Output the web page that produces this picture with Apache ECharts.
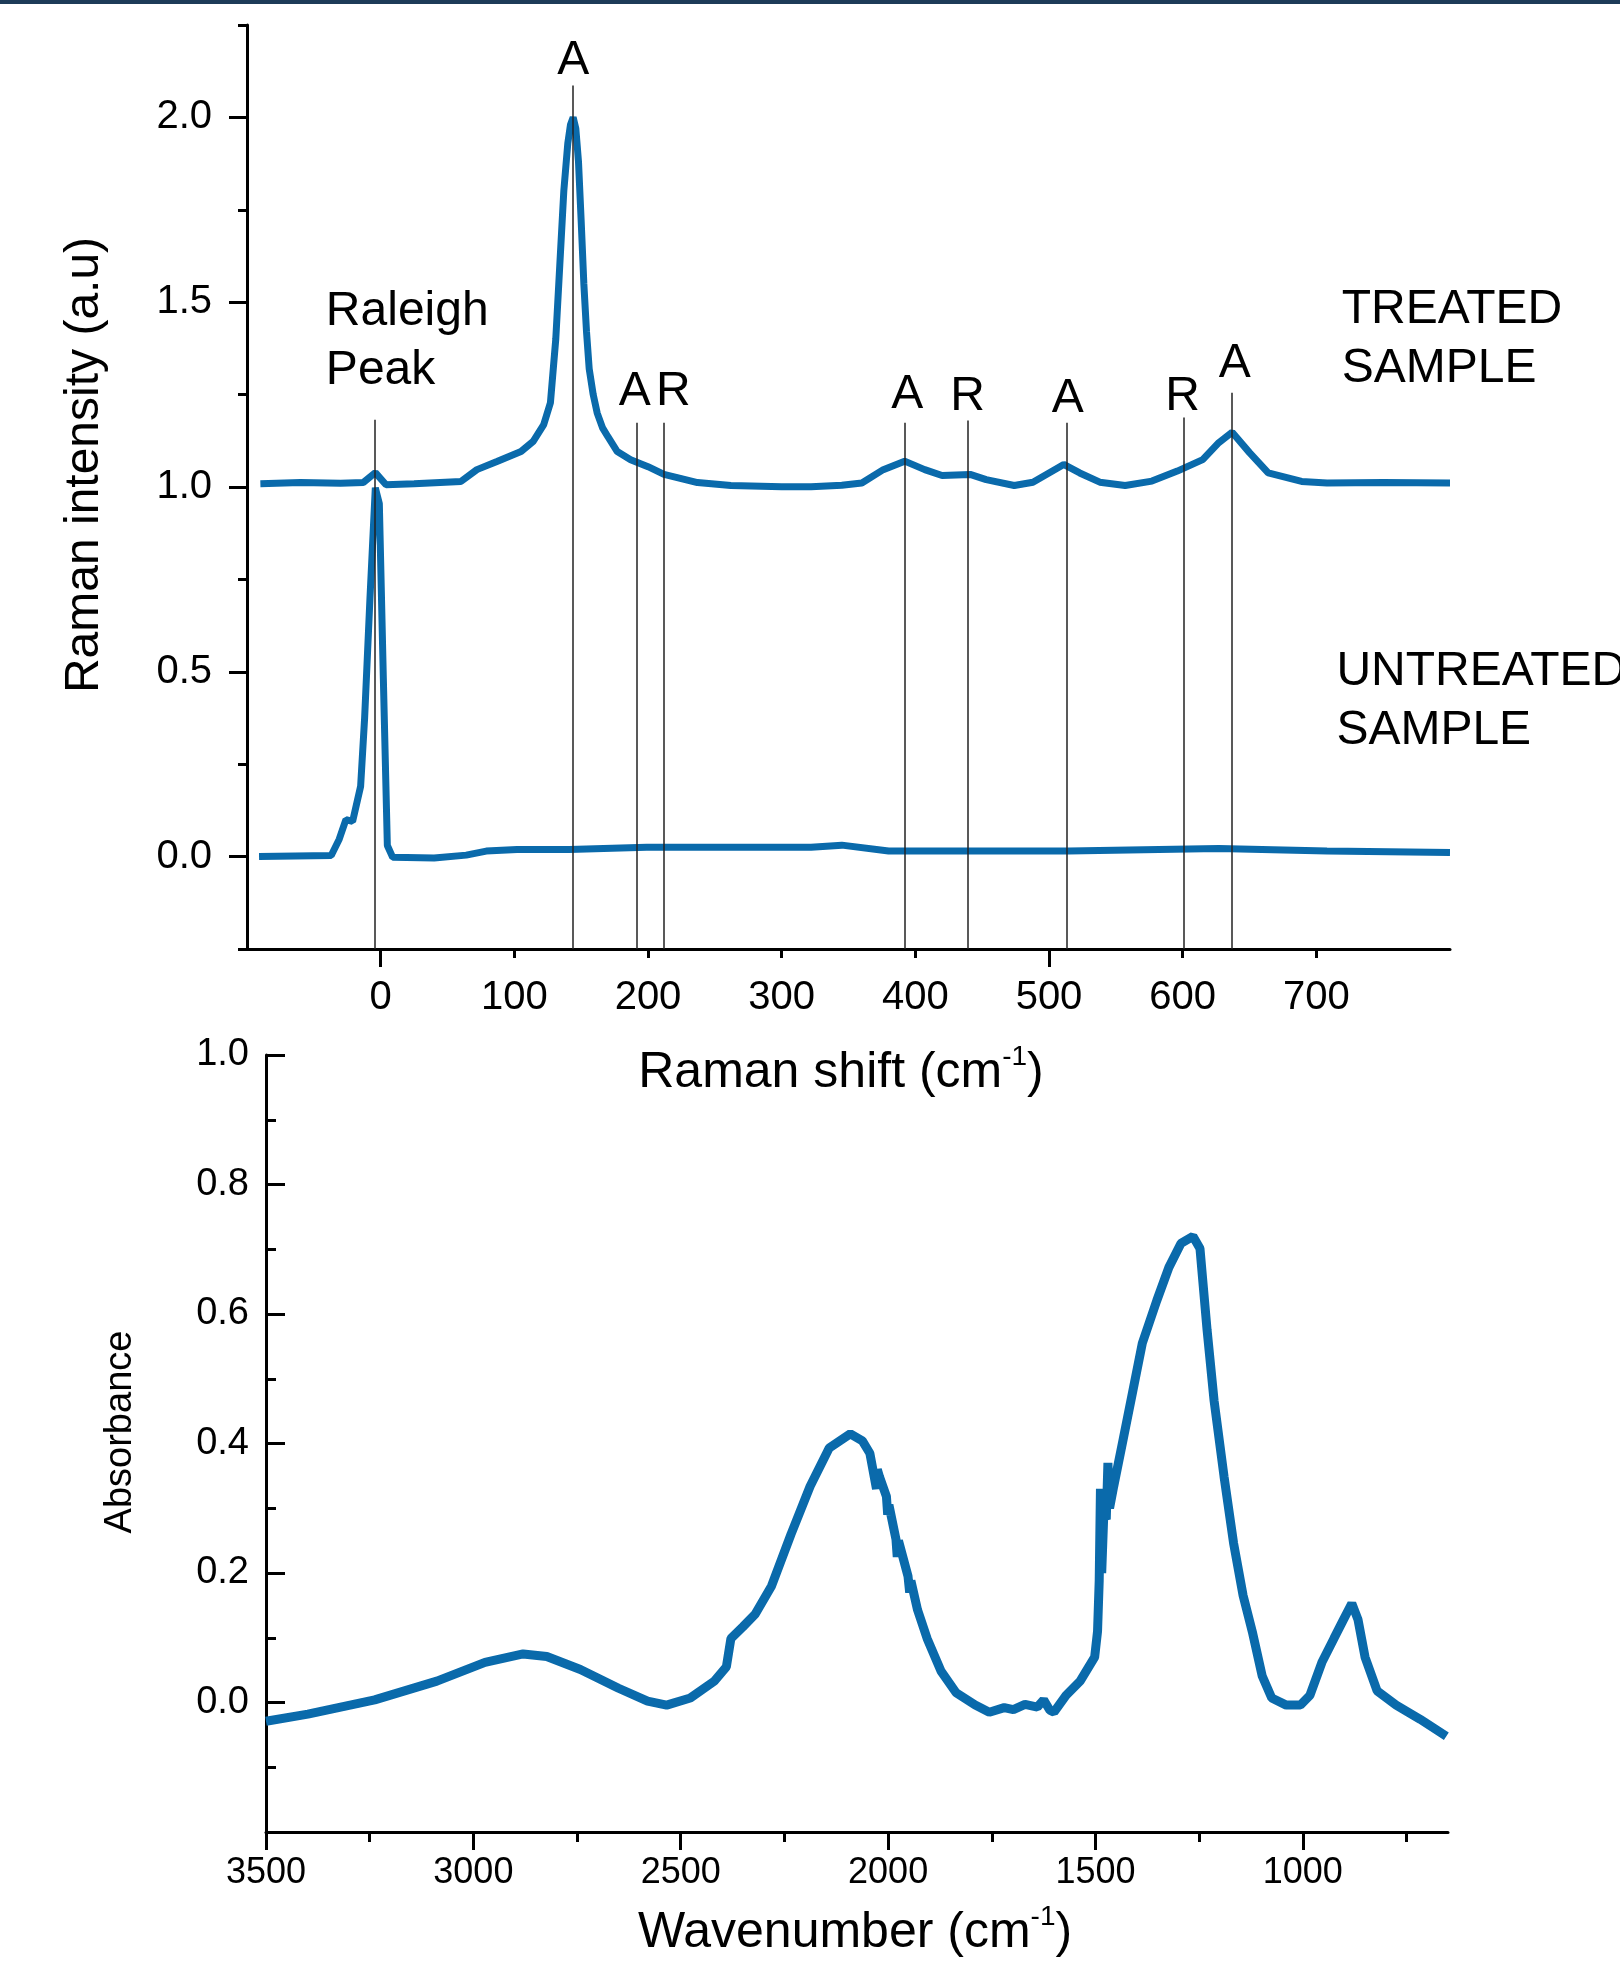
<!DOCTYPE html>
<html>
<head>
<meta charset="utf-8">
<title>Raman and FTIR spectra</title>
<script src="https://cdn.jsdelivr.net/npm/echarts@6/dist/echarts.min.js"></script>
<style>
html, body { margin: 0; padding: 0; background: #fff; }
#chart { width: 1620px; height: 1962px; }
</style>
</head>
<body>
<div id="chart"></div>
<script>
// Raman spectra (top panel)
const treatedShift = [-90,-60,-30,-13,-4,4,25,60,72,87,105,114,122,127,131,134,137,140,142,144,146,148,150,152,154,156,159,162,166,170,177,187,200,212,237,262,300,322,345,360,376,392,407,420,441,453,474,488,511,523,538,557,577,596,615,627,637,650,664,689,708,750,800]
const treatedInt = [1.009,1.012,1.01,1.012,1.039,1.006,1.009,1.015,1.047,1.069,1.096,1.123,1.169,1.228,1.40,1.60,1.80,1.93,1.98,2.0,1.97,1.88,1.72,1.55,1.42,1.32,1.25,1.20,1.16,1.136,1.096,1.074,1.055,1.034,1.012,1.004,1.001,1.001,1.005,1.011,1.047,1.07,1.047,1.031,1.034,1.02,1.004,1.013,1.061,1.038,1.013,1.004,1.016,1.043,1.074,1.12,1.148,1.093,1.038,1.015,1.011,1.012,1.011]

const untreatedShift = [-91,-37,-31,-26,-21,-15,-12,-8,-4,-1,2,5,9,40,64,79,102,141,199,257,322,345,380,438,515,627,708,800]
const untreatedInt = [0.0,0.003,0.047,0.10,0.095,0.19,0.375,0.70,0.998,0.955,0.482,0.03,-0.002,-0.004,0.004,0.015,0.019,0.019,0.025,0.025,0.025,0.031,0.015,0.015,0.015,0.022,0.015,0.011]

// peak marker lines and their letters
const markerX = [-4.5,143.4,191.3,211.7,392,439,513,600.6,636.5]
const markerTop = [1.182,2.086,1.174,1.174,1.174,1.18,1.174,1.188,1.255]
const peakLabels = ['A','A','R','A','R','A','R','A']
const peakLabelX = [144,190,219,394,439,514,600,639]
const peakLabelY = [2.154,1.257,1.257,1.25,1.245,1.239,1.245,1.334]
const sampleLabels = ['Raleigh\nPeak','TREATED\nSAMPLE','UNTREATED\nSAMPLE']
const sampleLabelX = [-41,719,715]
const sampleLabelY = [1.393,1.40,0.419]

const ramanTicks = [0,100,200,300,400,500,600,700]
const ramanLongTicks = [0,500]
const ramanShortTicks = [100,200,300,400,600,700]
const intensityTicks = [0,0.5,1.0,1.5,2.0]
const intensityMinor = [-0.25,0.25,0.75,1.25,1.75,2.25]

// FTIR spectrum (bottom panel)
const wavenumber = [3500,3399,3238,3088,2972,2880,2823,2742,2650,2580,2534,2477,2419,2390,2379,2350,2321,2281,2234,2188,2142,2091,2062,2044,2028,2026,2021,2004,2001,1998,1981,1978,1975,1952,1948,1945,1929,1906,1872,1836,1790,1756,1720,1698,1670,1640,1625,1610,1600,1571,1537,1502,1495,1491,1488,1485,1480,1474,1470,1466,1456,1433,1410,1387,1352,1323,1294,1265,1248,1231,1214,1190,1167,1144,1121,1098,1075,1040,1006,983,954,925,902,882,867,850,821,775,717,654]
const absorbance = [-0.029,-0.018,0.004,0.033,0.062,0.075,0.071,0.051,0.022,0.002,-0.004,0.007,0.033,0.055,0.099,0.117,0.136,0.18,0.26,0.334,0.393,0.415,0.404,0.385,0.33,0.36,0.349,0.318,0.29,0.305,0.252,0.225,0.25,0.195,0.17,0.188,0.143,0.099,0.048,0.015,-0.004,-0.015,-0.008,-0.011,-0.003,-0.007,0.004,-0.012,-0.015,0.011,0.033,0.07,0.11,0.188,0.33,0.2,0.29,0.283,0.37,0.3,0.334,0.407,0.481,0.555,0.621,0.672,0.709,0.72,0.701,0.576,0.466,0.349,0.246,0.165,0.107,0.041,0.007,-0.004,-0.004,0.011,0.062,0.099,0.128,0.153,0.128,0.07,0.018,-0.004,-0.026,-0.052]
const wnTicks = [1000,1500,2000,2500,3000,3500]
const wnMinor = [750,1250,1750,2250,2750,3250]

const FONT = 'Liberation Sans, Arial, sans-serif'
const BLUE = '#0a6aab'
const zip = (xs, ys) => xs.map((x, i) => [x, ys[i]])

// axis title with a raised "-1", laid out from measured text widths
const measure = document.createElement('canvas').getContext('2d')
function supTitle(cx, cy, head, sup, tail, size, supSize) {
  measure.font = size + 'px ' + FONT
  const w1 = measure.measureText(head).width
  const w3 = measure.measureText(tail).width
  measure.font = supSize + 'px ' + FONT
  const w2 = measure.measureText(sup).width
  const left = cx - (w1 + w2 + w3) / 2
  const base = { fill: '#000', align: 'left', verticalAlign: 'middle' }
  return [
    { type: 'text', x: left, y: cy, style: Object.assign({ text: head, font: size + 'px ' + FONT }, base) },
    { type: 'text', x: left + w1, y: cy - 16, style: Object.assign({ text: sup, font: supSize + 'px ' + FONT }, base) },
    { type: 'text', x: left + w1 + w2, y: cy, style: Object.assign({ text: tail, font: size + 'px ' + FONT }, base) }
  ]
}

const chart = echarts.init(document.getElementById('chart'))

const axisLine = { onZero: false, lineStyle: { color: '#000', width: 3 } }
const noLine = { show: false, onZero: false }
const tickStyle = { color: '#000', width: 3 }

chart.setOption({
  animation: false,
  backgroundColor: '#fff',
  grid: [
    { left: 247, top: 25, width: 1203, height: 924 },
    { left: 266, top: 1055, width: 1182, height: 777 }
  ],
  xAxis: [
    {
      gridIndex: 0, type: 'value', min: -100, max: 800, position: 'bottom',
      axisLine: axisLine,
      axisTick: { customValues: ramanLongTicks, length: 18, lineStyle: tickStyle },
      axisLabel: { customValues: ramanTicks, formatter: v => String(v), fontSize: 40, fontFamily: FONT, color: '#000', margin: 29 },
      splitLine: { show: false }
    },
    {
      gridIndex: 0, type: 'value', min: -100, max: 800, position: 'bottom',
      axisLine: noLine,
      axisTick: { customValues: ramanShortTicks, length: 9, lineStyle: tickStyle },
      axisLabel: { show: false },
      splitLine: { show: false }
    },
    {
      gridIndex: 1, type: 'value', min: 650, max: 3500, inverse: true, position: 'bottom',
      axisLine: axisLine,
      axisTick: { customValues: wnTicks, length: 18, lineStyle: tickStyle },
      axisLabel: { customValues: wnTicks, formatter: v => String(v), fontSize: 36, fontFamily: FONT, color: '#000', margin: 23 },
      splitLine: { show: false }
    },
    {
      gridIndex: 1, type: 'value', min: 650, max: 3500, inverse: true, position: 'bottom',
      axisLine: noLine,
      axisTick: { customValues: wnMinor, length: 10, lineStyle: tickStyle },
      axisLabel: { show: false },
      splitLine: { show: false }
    }
  ],
  yAxis: [
    {
      gridIndex: 0, type: 'value', min: -0.25, max: 2.25, position: 'left',
      axisLine: { show: true, onZero: false, lineStyle: { color: '#000', width: 3 } },
      axisTick: { customValues: intensityTicks, length: 18, lineStyle: tickStyle },
      axisLabel: { customValues: intensityTicks, formatter: v => v.toFixed(1), fontSize: 40, fontFamily: FONT, color: '#000', margin: 35 },
      splitLine: { show: false }
    },
    {
      gridIndex: 0, type: 'value', min: -0.25, max: 2.25, position: 'left',
      axisLine: noLine,
      axisTick: { customValues: intensityMinor, length: 9, lineStyle: tickStyle },
      axisLabel: { show: false },
      splitLine: { show: false }
    },
    {
      gridIndex: 1, type: 'value', min: -0.2, max: 1.0, interval: 0.2, position: 'left',
      axisLine: { show: true, onZero: false, lineStyle: { color: '#000', width: 3 } },
      axisTick: { inside: true, length: 19, lineStyle: tickStyle },
      minorTick: { show: true, splitNumber: 2, length: 10, lineStyle: tickStyle },
      axisLabel: { showMinLabel: false, formatter: v => v.toFixed(1), fontSize: 38, fontFamily: FONT, color: '#000', margin: 17 },
      splitLine: { show: false },
      minorSplitLine: { show: false }
    }
  ],
  graphic: [
    { type: 'rect', left: 0, top: 0, shape: { width: 1620, height: 4 }, style: { fill: '#1d3b58' } },
    {
      type: 'text', x: 85, y: 465, rotation: Math.PI / 2,
      style: { text: 'Raman intensity (a.u)', font: '48px ' + FONT, fill: '#000', align: 'center', verticalAlign: 'middle' }
    },
    {
      type: 'text', x: 121, y: 1432, rotation: Math.PI / 2,
      style: { text: 'Absorbance', font: '38px ' + FONT, fill: '#000', align: 'center', verticalAlign: 'middle' }
    }
  ].concat(
    supTitle(841, 1073, 'Raman shift (cm', '-1', ')', 50, 28),
    supTitle(855, 1933, 'Wavenumber (cm', '-1', ')', 50, 28)
  ),
  series: [
    {
      name: 'Treated', type: 'line', xAxisIndex: 0, yAxisIndex: 0,
      data: zip(treatedShift, treatedInt), showSymbol: false, silent: true,
      lineStyle: { color: BLUE, width: 7 }, z: 3
    },
    {
      name: 'Untreated', type: 'line', xAxisIndex: 0, yAxisIndex: 0,
      data: zip(untreatedShift, untreatedInt), showSymbol: false, silent: true,
      lineStyle: { color: BLUE, width: 7 }, z: 3
    },
    {
      name: 'Labels', type: 'scatter', xAxisIndex: 0, yAxisIndex: 0, symbolSize: 0, silent: true, clip: false,
      itemStyle: { opacity: 1 },
      emphasis: { disabled: true },
      data: peakLabels.map((t, i) => ({ value: [peakLabelX[i], peakLabelY[i]], name: t }))
        .concat(sampleLabels.map((t, i) => ({
          value: [sampleLabelX[i], sampleLabelY[i]], name: t,
          label: { position: 'right', distance: 0, align: 'left', lineHeight: 59 }
        }))),
      label: {
        show: true, formatter: '{b}', position: 'inside', fontSize: 48, fontFamily: FONT,
        color: '#000', opacity: 1, textBorderWidth: 0, textBorderColor: 'transparent'
      },
      markLine: {
        silent: true, symbol: ['none', 'none'],
        lineStyle: { color: '#222', width: 1.5, type: 'solid', opacity: 1 },
        label: { show: false },
        data: markerX.map((x, i) => [{ coord: [x, -0.25] }, { coord: [x, markerTop[i]] }])
      },
      z: 2
    },
    {
      name: 'FTIR', type: 'line', xAxisIndex: 2, yAxisIndex: 2,
      data: zip(wavenumber, absorbance), showSymbol: false, silent: true,
      lineStyle: { color: BLUE, width: 9 }
    }
  ]
})
</script>
</body>
</html>
